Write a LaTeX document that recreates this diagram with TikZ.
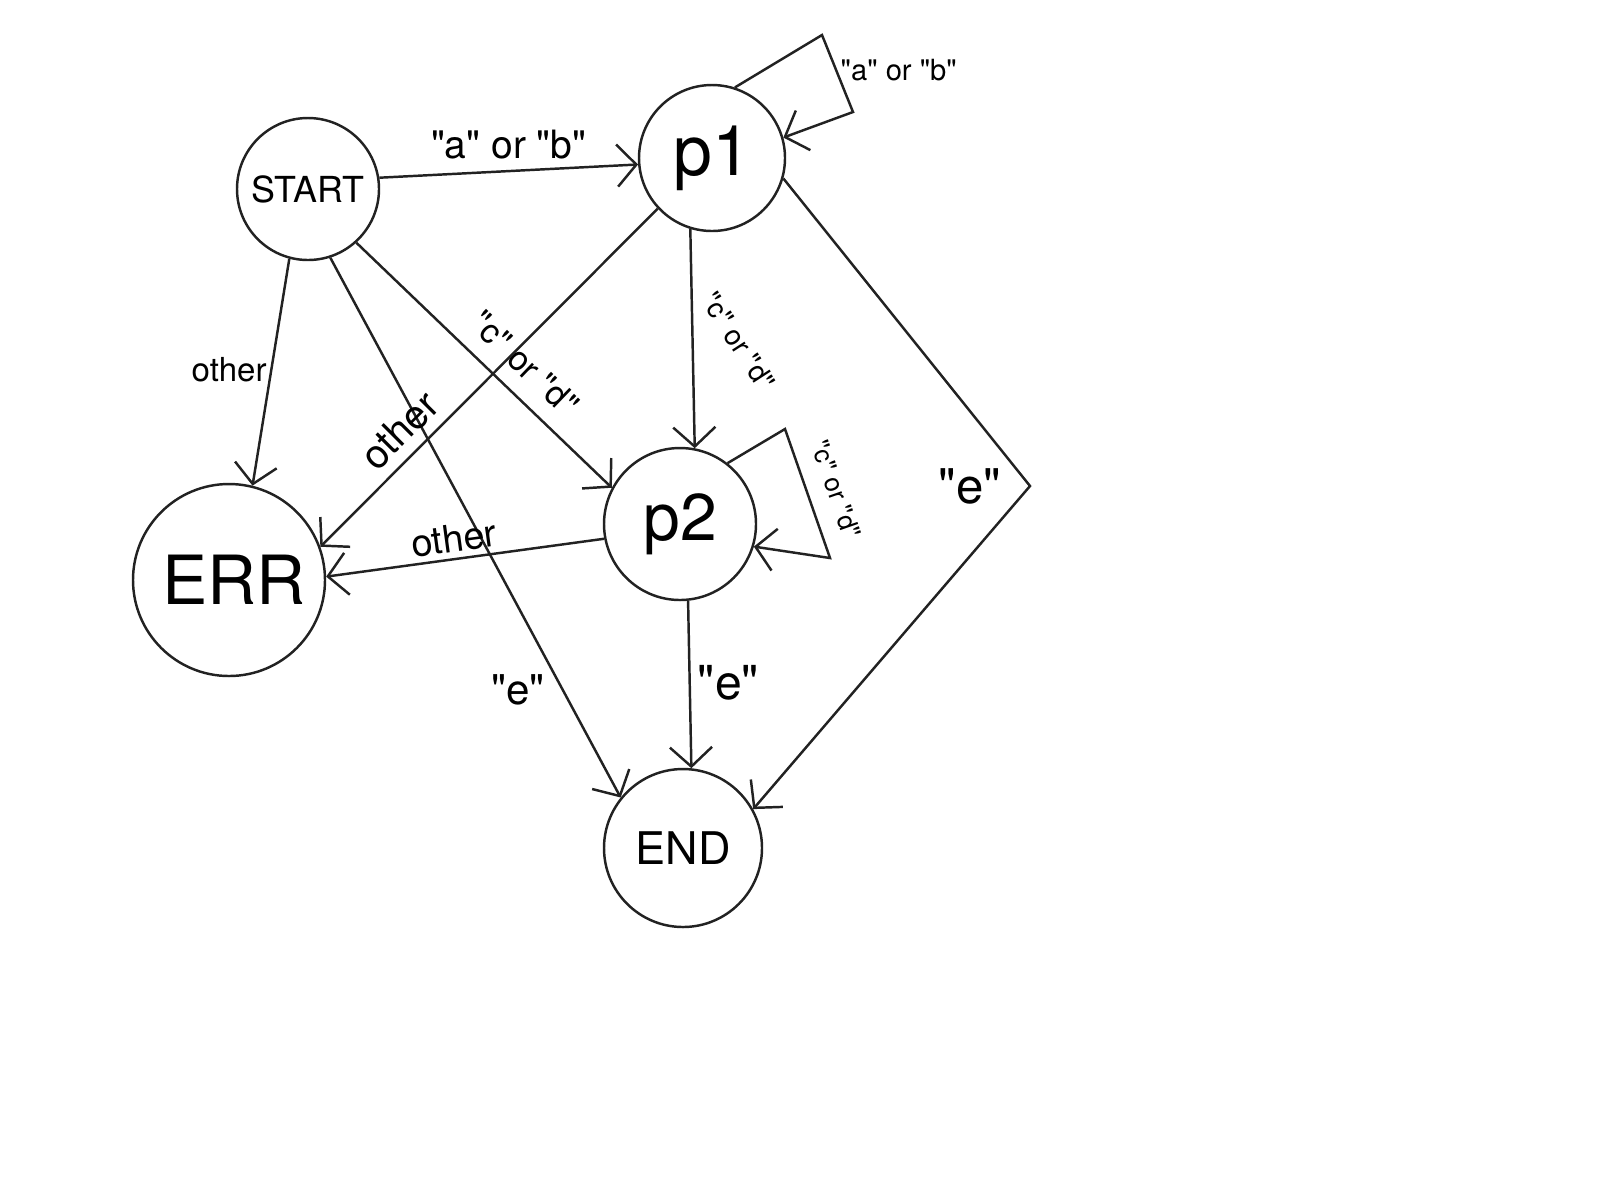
\documentclass[tikz,border=0pt]{standalone}
\usepackage{fontspec}
\setmainfont{TeX Gyre Heros}[Ligatures=TeXOff]
\usetikzlibrary{arrows.meta}
\definecolor{inkgray}{RGB}{34,34,34}
\newcommand{\setsz}[1]{\fontsize{#1}{#1}\selectfont}
\tikzset{
      state/.style={circle, draw=inkgray, line width=0.7pt, inner sep=0pt},
      trans/.style={draw=inkgray, line width=0.7pt,
            -{Straight Barb[length=5.5pt, width=12pt, line width=0.7pt]}},
      lbl/.style={inner sep=3pt, text=black},
}
\begin{document}
\begin{tikzpicture}

        \useasboundingbox (0,0) rectangle (16,-12) ;

        \node[state, minimum size=1.42cm, font=\setsz{10.2}] (start) at (3.08,-1.89) {START} ;
        \node[state, minimum size=1.46cm, font=\setsz{19.9}] (p1) at (7.12,-1.58) {p1} ;
        \node[state, minimum size=1.52cm, font=\setsz{18.8}] (p2) at (6.80,-5.24) {p2} ;
        \node[state, minimum size=1.92cm, font=\setsz{19.3}] (err) at (2.29,-5.80) {\hspace{1mm}ERR} ;
        \node[state, minimum size=1.58cm, font=\setsz{12.8}] (end) at (6.83,-8.48) {END} ;

        \coordinate (loopa) at (8.22,-0.35) ;
        \coordinate (loopb) at (8.53,-1.12) ;
        \coordinate (loopc) at (7.85,-4.29) ;
        \coordinate (loopd) at (8.30,-5.58) ;
        \coordinate (ecorner) at (10.30,-4.86) ;

        \draw[trans] (start.9) -- node[lbl, above, font=\setsz{11.1}] {"a" or "b"} (p1.185) ;
        \draw[trans] (start.-105) -- node[lbl, pos=0.49, left=-2pt, font=\setsz{9.4}] {other} (err.76) ;
        \draw[trans] (start.-48) -- node[lbl, pos=0.58, sloped, above=1.5pt, font=\setsz{9.7}] {"c" or "d"} (p2.152) ;
        \draw[trans] (start.-72) -- node[lbl, pos=0.8, left=1.7pt, font=\setsz{12}] {"e"} (end.141) ;

        \draw[trans] (p1.72) -- (loopa) -- node[lbl, pos=0.45, right=-2pt, font=\setsz{8.3}] {"a" or "b"} (loopb) -- (p1.16) ;
        \draw[trans] (p1.-107) -- node[lbl, pos=0.51, xshift=0.46cm, rotate=-57, font=\setsz{8}] {"c" or "d"} (p2.79) ;
        \draw[trans] (p1.-137) -- node[lbl, pos=0.71, sloped, above, font=\setsz{11.4}] {other} (err.20) ;
        \draw[trans] (p1.-16) -- (ecorner) node[lbl, left=0.17cm, font=\setsz{14}] {"e"} -- (end.29) ;

        \draw[trans] (p2.52) -- (loopc) -- node[lbl, pos=0.54, sloped, above=2pt, font=\setsz{7.4}] {"c" or "d"} (loopd) -- (p2.-17) ;
        \draw[trans] (p2.-169) -- node[lbl, pos=0.53, sloped, above=-1.5pt, font=\setsz{10.8}] {other} (err.2) ;
        \draw[trans] (p2.-84) -- node[lbl, pos=0.49, right=-1pt, font=\setsz{13.7}] {"e"} (end.84) ;

\end{tikzpicture}
\end{document}
